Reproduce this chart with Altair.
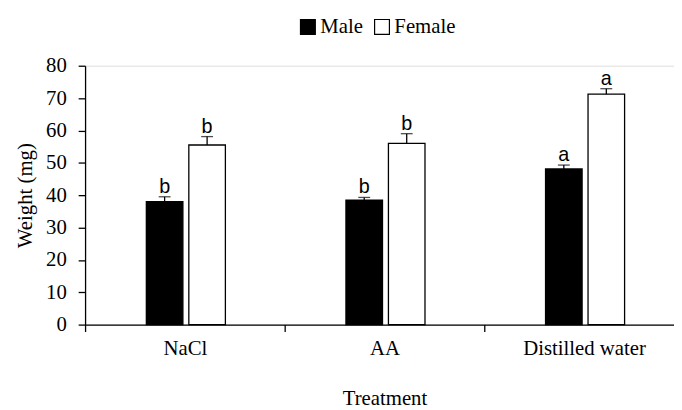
import altair as alt
import pandas as pd

treatments = ["NaCl", "AA", "Distilled water"]
sexes = ["Male", "Female"]
male_mean = [38.0, 38.5, 48.1]
male_se = [1.5, 0.8, 1.2]
female_mean = [55.5, 56.0, 71.2]
female_se = [2.6, 3.0, 1.7]
male_letters = ["b", "b", "a"]
female_letters = ["b", "b", "a"]
y_ticks = [0, 10, 20, 30, 40, 50, 60, 70, 80]

rows = []
for i, t in enumerate(treatments):
    rows.append({"treatment": t, "sex": "Male", "mean": male_mean[i],
                 "top": male_mean[i] + male_se[i], "letter": male_letters[i]})
    rows.append({"treatment": t, "sex": "Female", "mean": female_mean[i],
                 "top": female_mean[i] + female_se[i], "letter": female_letters[i]})
df = pd.DataFrame(rows)

SERIF = "Liberation Serif"
SANS = "Liberation Sans"
FS = 21

x_enc = alt.X(
    "treatment:N", sort=treatments,
    scale=alt.Scale(range=[0, 606], paddingInner=0, paddingOuter=0),
    axis=alt.Axis(title="Treatment", labelAngle=0, tickBand="extent",
                  labelFont=SERIF, labelFontSize=FS, labelColor="black",
                  titleFont=SERIF, titleFontSize=FS, titleFontWeight="normal",
                  titleColor="black", titlePadding=30, labelPadding=6,
                  tickSize=7, tickColor="black", domainColor="black",
                  domainWidth=1.3, tickWidth=1.3, labelOverlap=False),
)
xo_enc = alt.XOffset("sex:N", sort=sexes,
                     scale=alt.Scale(range=[59, 145], paddingInner=0, paddingOuter=0))

y_axis = alt.Axis(title="Weight (mg)", values=y_ticks,
                  grid=False, labelFont=SERIF, labelFontSize=FS,
                  labelColor="black", titleFont=SERIF, titleFontSize=FS,
                  titleFontWeight="normal", titleColor="black",
                  titlePadding=10, labelPadding=12, tickSize=7,
                  tickColor="black", domainColor="black",
                  domainWidth=1.3, tickWidth=1.3, labelOverlap=False)
y_scale = alt.Scale(domain=[0, 80], nice=False)

base = alt.Chart(df)

bars = base.mark_bar(size=37, stroke="black", strokeWidth=1.3).encode(
    x=x_enc,
    xOffset=xo_enc,
    y=alt.Y("mean:Q", scale=y_scale, axis=y_axis),
    color=alt.Color("sex:N", sort=sexes,
                    scale=alt.Scale(domain=sexes, range=["black", "white"]),
                    legend=alt.Legend(title=None, orient="none", direction="horizontal",
                                      legendX=215, legendY=-50,
                                      symbolType="square", symbolSize=225,
                                      symbolStrokeColor="black", symbolStrokeWidth=1.2,
                                      symbolOpacity=1,
                                      labelFont=SERIF, labelFontSize=FS,
                                      labelColor="black", labelOffset=2,
                                      columnPadding=8)),
)

err = base.mark_rule(color="black", strokeWidth=1.3).encode(
    x=x_enc, xOffset=xo_enc,
    y=alt.Y("mean:Q", scale=y_scale, axis=y_axis), y2="top:Q")

cap = base.mark_tick(color="black", thickness=1.3, size=12).encode(
    x=x_enc, xOffset=xo_enc, y=alt.Y("top:Q", scale=y_scale, axis=y_axis))

letters = base.mark_text(font=SANS, fontSize=20, color="black",
                         baseline="alphabetic", dy=-4).encode(
    x=x_enc, xOffset=xo_enc, y=alt.Y("top:Q", scale=y_scale, axis=y_axis),
    text="letter:N")

chart = alt.layer(bars, err, cap, letters).properties(
    width=596, height=262,
    autosize=alt.AutoSizeParams(type="none"),
    padding={"left": 78, "top": 56, "right": 0, "bottom": 84},
).configure_view(stroke=None).configure(background="white")

chart.save("out.html", embed_options={"renderer": "svg", "actions": False})
